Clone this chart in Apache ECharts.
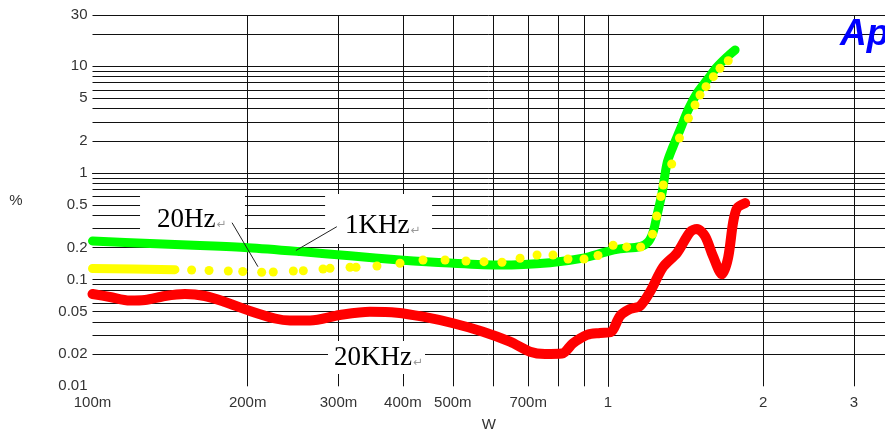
<!DOCTYPE html>
<html>
<head>
<meta charset="utf-8">
<script src="https://cdn.jsdelivr.net/npm/echarts@6/dist/echarts.min.js"></script>
<style>
html,body{margin:0;padding:0;background:#fff;}
#c{width:885px;height:434px;}
</style>
</head>
<body>
<div id="c"></div>
<script>
// ---- axis ticks / labels ----
const xTickVals = [0.1, 0.2, 0.3, 0.4, 0.5, 0.7, 1, 2, 3];
const xTickLabels = ['100m', '200m', '300m', '400m', '500m', '700m', '1', '2', '3'];
const xGridVals = [0.2, 0.3, 0.4, 0.5, 0.6, 0.7, 0.8, 0.9, 1, 2, 3];
const yTickVals = [0.01, 0.02, 0.05, 0.1, 0.2, 0.5, 1, 2, 5, 10, 30];
const yTickLabels = ['0.01', '0.02', '0.05', '0.1', '0.2', '0.5', '1', '2', '5', '10', '30'];
const yGridVals = [0.02, 0.03, 0.04, 0.05, 0.06, 0.07, 0.08, 0.09,
                   0.1, 0.2, 0.3, 0.4, 0.5, 0.6, 0.7, 0.8, 0.9,
                   1, 2, 3, 4, 5, 6, 7, 8, 9, 10, 20, 30];

// ---- 1KHz (green) ----
const greenW = [0.1, 0.1293, 0.1616, 0.2002, 0.2527, 0.3159, 0.3949, 0.4937, 0.6172, 0.7719, 0.8945, 0.9956, 1.055, 1.154, 1.196, 1.223, 1.245, 1.273, 1.302, 1.336, 1.379, 1.430, 1.489, 1.556, 1.627, 1.701, 1.764];
const greenP = [0.230, 0.218, 0.209, 0.199, 0.183, 0.167, 0.153, 0.143, 0.137, 0.144, 0.159, 0.183, 0.194, 0.204, 0.225, 0.279, 0.403, 0.648, 1.238, 1.749, 2.524, 3.887, 5.61, 7.42, 9.83, 12.2, 14.19];

// ---- 20Hz (yellow): dense start + dots ----
const yellowSolidW = [0.1, 0.12, 0.1445];
const yellowSolidP = [0.127, 0.126, 0.124];
const yellowW = [0.1557, 0.1683, 0.1834, 0.1956, 0.2129, 0.2242, 0.2452, 0.2564, 0.2800, 0.2889, 0.3159, 0.3245, 0.3563, 0.3949, 0.4376, 0.4830, 0.5303, 0.5747, 0.6227, 0.6752, 0.7284, 0.7821, 0.8363, 0.8983, 0.9563, 1.023, 1.087, 1.157, 1.220, 1.243, 1.266, 1.280, 1.329, 1.376, 1.432, 1.475, 1.508, 1.549, 1.601, 1.649, 1.711];
const yellowP = [0.1230, 0.1217, 0.1204, 0.1191, 0.1171, 0.1178, 0.1204, 0.1212, 0.1257, 0.1276, 0.1304, 0.1304, 0.1341, 0.1422, 0.1527, 0.1527, 0.1494, 0.1472, 0.1453, 0.1584, 0.1701, 0.1701, 0.1560, 0.1560, 0.1682, 0.2098, 0.2026, 0.2021, 0.2665, 0.3946, 0.601, 0.770, 1.212, 2.124, 3.250, 4.329, 5.372, 6.43, 7.975, 9.56, 11.26];

// ---- 20KHz (red) ----
const redW = [0.1, 0.1081, 0.1182, 0.1264, 0.1382, 0.1511, 0.1652, 0.1807, 0.2020, 0.2259, 0.2416, 0.2642, 0.3020, 0.3453, 0.3897, 0.4376, 0.5005, 0.5721, 0.6454, 0.7059, 0.7547, 0.8142, 0.8553, 0.9106, 0.9649, 1.013, 1.055, 1.103, 1.154, 1.206, 1.279, 1.361, 1.443, 1.488, 1.542, 1.598, 1.664, 1.710, 1.748, 1.780, 1.845];
const redP = [0.0733, 0.0687, 0.0637, 0.0644, 0.0702, 0.0733, 0.0702, 0.0617, 0.0508, 0.0432, 0.0414, 0.0414, 0.0466, 0.0500, 0.0490, 0.0449, 0.0390, 0.0325, 0.0262, 0.0211, 0.0201, 0.0203, 0.0253, 0.0303, 0.0316, 0.0323, 0.0456, 0.0530, 0.0566, 0.0765, 0.1312, 0.1776, 0.2794, 0.298, 0.2563, 0.1665, 0.112, 0.1604, 0.3401, 0.469, 0.522];

// ---- annotation anchors (data coords: W, %) ----
const note20Hz = {w: 0.1334, p: 0.362};
const lead20Hz = [[0.1865, 0.3414], [0.2094, 0.1321]];
const note1KHz = {w: 0.3090, p: 0.3214};
const lead1KHz = [[0.2978, 0.3132], [0.2481, 0.1874]];
const note20KHz = {w: 0.2941, p: 0.01842};

const L = Math.log10;
const pairs = (xs, ys) => xs.map((x, i) => [L(x), L(ys[i])]);
const xMin = 0.1, xMax = 3.446, yMin = 0.01, yMax = 30;
const GRID = '#111';
const LBL = {color: '#333', fontSize: 15, fontFamily: '"Liberation Sans", Arial, sans-serif'};

function lbl(vals, labels) {
  return function (v) {
    const i = vals.findIndex(t => Math.abs(L(t) - v) < 1e-6);
    return i >= 0 ? labels[i] : '';
  };
}

const chart = echarts.init(document.getElementById('c'), null, {renderer: 'canvas'});
const option = {
  animation: false,
  backgroundColor: '#fff',
  grid: {left: 92.5, top: 15.3, right: 0, bottom: 47.7, containLabel: false, outerBoundsMode: 'none'},
  xAxis: {
    type: 'value', min: L(xMin), max: L(xMax),
    axisLine: {show: true, lineStyle: {color: GRID, width: 1}},
    axisTick: {show: false, customValues: xGridVals.map(L)},
    axisLabel: Object.assign({customValues: xTickVals.map(L), formatter: lbl(xTickVals, xTickLabels), margin: 9}, LBL),
    splitLine: {show: true, lineStyle: {color: GRID, width: 1}},
    name: 'W', nameLocation: 'middle', nameGap: 31,
    nameTextStyle: LBL
  },
  yAxis: {
    type: 'value', min: L(yMin), max: L(yMax),
    axisLine: {show: true, lineStyle: {color: GRID, width: 1}},
    axisTick: {show: false, customValues: yGridVals.map(L)},
    axisLabel: Object.assign({customValues: yTickVals.map(L), formatter: lbl(yTickVals, yTickLabels), margin: 5}, LBL),
    splitLine: {show: true, lineStyle: {color: GRID, width: 1}},
    name: '%', nameLocation: 'middle', nameRotate: 0, nameGap: 70,
    nameTextStyle: LBL
  },
  series: [
    {name: '1KHz', type: 'line', data: pairs(greenW, greenP), showSymbol: false, smooth: 0.3, z: 3,
     lineStyle: {color: '#00ff00', width: 9, cap: 'round', join: 'round'}},
    {name: '20KHz', type: 'line', data: pairs(redW, redP), showSymbol: false, smooth: 0.3, z: 3,
     lineStyle: {color: '#ff0000', width: 10, cap: 'round', join: 'round'}},
    {name: '20Hz', type: 'line', data: pairs(yellowSolidW, yellowSolidP), showSymbol: false, z: 4,
     lineStyle: {color: '#ffff00', width: 9, cap: 'round', join: 'round'}},
    {name: '20Hz dots', type: 'scatter', data: pairs(yellowW, yellowP), symbol: 'circle', symbolSize: 9, z: 4,
     itemStyle: {color: '#ffff00', opacity: 1}}
  ]
};
chart.setOption(option);

const px = (w, p) => chart.convertToPixel({gridIndex: 0}, [L(w), L(p)]);
function note(anchor, text, box) {
  const a = px(anchor.w, anchor.p);
  return [
    {type: 'rect', z: 2, shape: {x: a[0] + box[0], y: a[1] + box[1], width: box[2], height: box[3]}, style: {fill: '#fff'}},
    {type: 'text', z: 6, x: a[0], y: a[1], style: {
      text: '{t|' + text + '}{m|↵}', align: 'left', verticalAlign: 'middle',
      rich: {t: {fontSize: 27, fontFamily: '"Liberation Serif", "Times New Roman", serif', fill: '#000'},
             m: {fontSize: 12, fontFamily: '"DejaVu Sans", sans-serif', fill: '#9a9a9a', padding: [10, 0, 0, 1]}}
    }}
  ];
}
function leader(seg) {
  const a = px(seg[0][0], seg[0][1]), b = px(seg[1][0], seg[1][1]);
  return {type: 'line', z: 6, shape: {x1: a[0], y1: a[1], x2: b[0], y2: b[1]}, style: {stroke: '#222', lineWidth: 1}};
}
chart.setOption({
  graphic: [].concat(
    note(note20Hz, '20Hz', [-17, -28, 105, 50]),
    note(note1KHz, '1KHz', [-20, -31.5, 107, 50]),
    note(note20KHz, '20KHz', [-6, -17, 97, 33]),
    [leader(lead20Hz), leader(lead1KHz),
     {type: 'text', z: 6, left: 840, top: 16, style: {text: 'Ap', font: 'italic bold 37px "Liberation Sans", Arial, sans-serif', fill: '#0000ff'}}]
  )
});
</script>
</body>
</html>
